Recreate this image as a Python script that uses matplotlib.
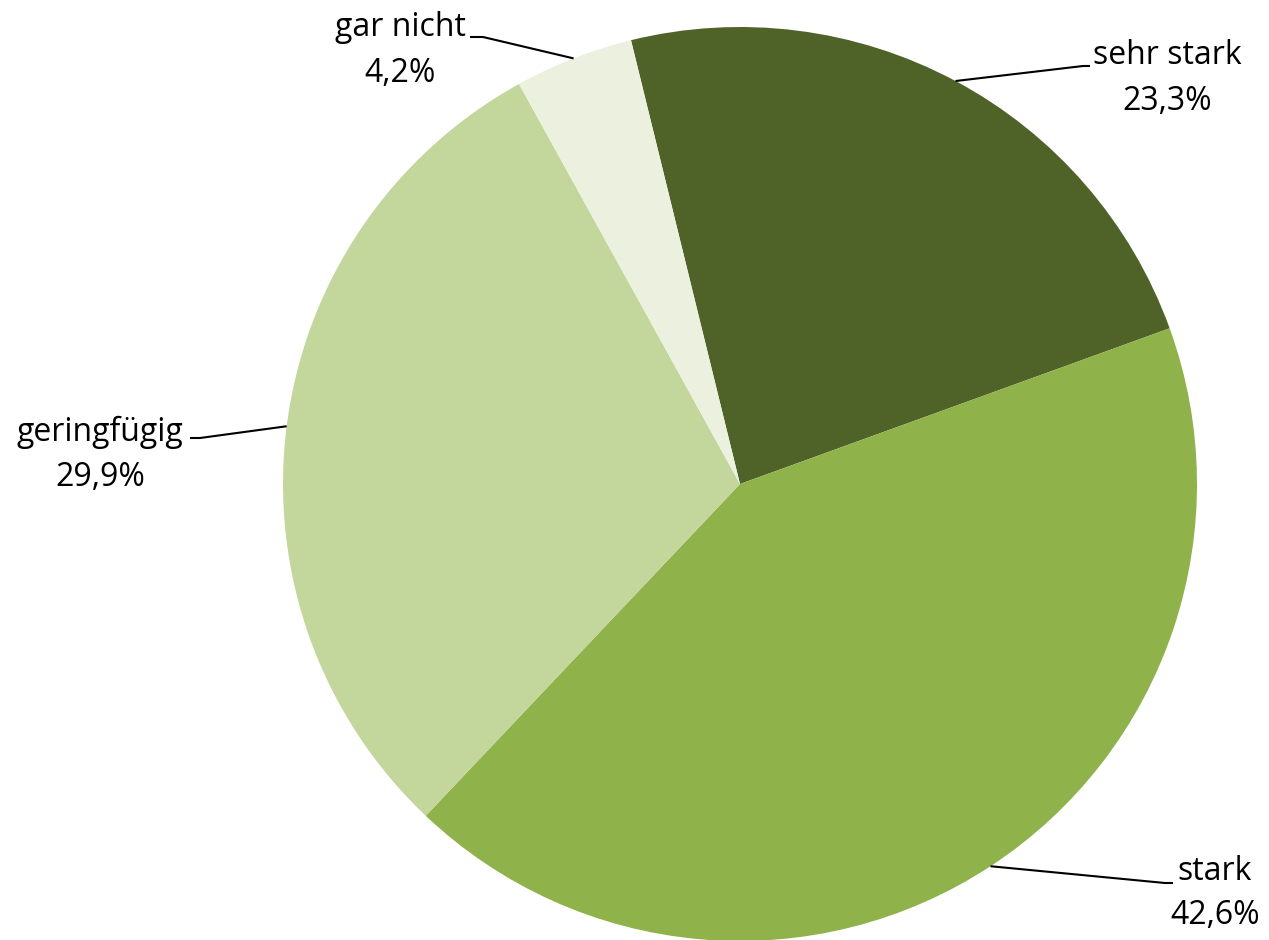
import numpy as np
import matplotlib
matplotlib.use("Agg")
import matplotlib.pyplot as plt

categories = ["sehr stark", "stark", "geringfügig", "gar nicht"]
shares = [23.3, 42.6, 29.9, 4.2]
value_labels = ["23,3%", "42,6%", "29,9%", "4,2%"]
colors = ["#4F6228", "#8FB24B", "#C3D69B", "#EBF1DE"]

W, H = 1269, 940
fig = plt.figure(figsize=(W / 100, H / 100), dpi=100)
ax = fig.add_axes([0, 0, 1, 1])

cx, cy, r = 740, H - 484, 457
wedges, _ = ax.pie(shares, colors=colors, startangle=103.8, counterclock=False,
                   center=(cx, cy), radius=r, frame=False,
                   wedgeprops=dict(linewidth=0))
ax.set_xlim(0, W)
ax.set_ylim(0, H)
ax.set_aspect("equal")
ax.axis("off")

# label block centres (x, y of first line) and elbow end points in pixel space
label_pos = [(1167, H - 56), (1215, H - 871), (100, H - 432), (400, H - 28)]
elbow = [((1083, H - 66), (1090, H - 66)),
         ((1165, H - 883), (1173, H - 883)),
         ((200, H - 438), (190, H - 438)),
         ((483, H - 37), (470, H - 37))]

font = dict(family="Open Sans", size=23, color="black")
for w, cat, val, (tx, ty), (p1, p2) in zip(wedges, categories, value_labels, label_pos, elbow):
    mid = np.deg2rad((w.theta1 + w.theta2) / 2)
    ax_x = cx + r * np.cos(mid)
    ax_y = cy + r * np.sin(mid)
    ax.plot([ax_x, p1[0], p2[0]], [ax_y, p1[1], p2[1]], color="black", lw=1.5,
            solid_capstyle="butt")
    ax.text(tx, ty, cat, ha="center", va="center", **font)
    ax.text(tx, ty - 45, val, ha="center", va="center", **font)

fig.savefig("out.png", dpi=100)
